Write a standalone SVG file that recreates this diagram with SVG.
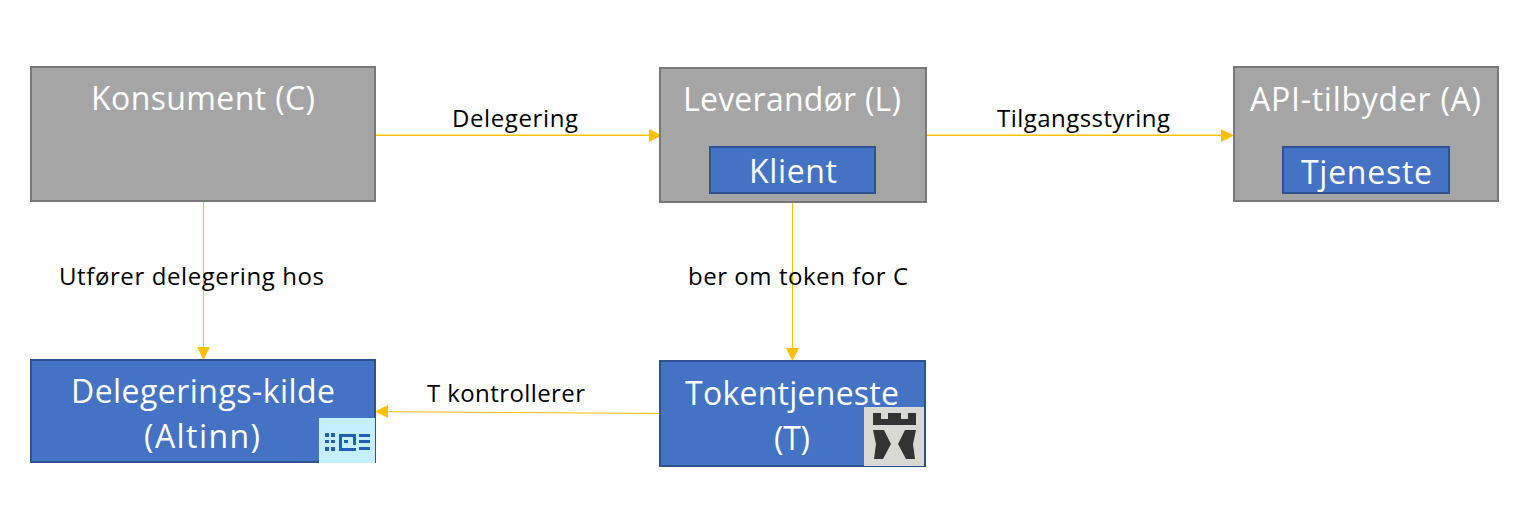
<svg xmlns="http://www.w3.org/2000/svg" width="1531" height="512" viewBox="0 0 1531 512">
<style>
text{font-family:"Open Sans","Noto Sans","Liberation Sans",sans-serif;text-anchor:middle}
.g{fill:#a5a5a5;stroke:#787878;stroke-width:2}
.b{fill:#4472c4;stroke:#2f528f;stroke-width:2}
.t{fill:#fff;font-size:32px}
.s{fill:#fff;font-size:32px}
.l{fill:#000;font-size:24px}
.c{fill:none;stroke:#ffc000;stroke-width:1}
.w{stroke-width:1.4}
.h{fill:#ffc000}
.d{fill:#1f5fb8}
.k{fill:#333}
</style>
<rect width="1531" height="512" fill="#fff"/>
<g id="connectors">
<path class="c w" d="M375 135.200H650"/><path class="h" d="M662 135.500L649 129V142Z"/>
<path class="c w" d="M926 135.200H1222"/><path class="h" d="M1234 135.500L1221 129V142Z"/>
<path class="c" d="M203.500 202V348"/><path class="h" d="M203.500 360L197 347H210Z"/>
<path class="c" d="M792.500 193V349"/><path class="h" d="M792.500 361L786 348H799Z"/>
<path class="c" d="M660 413.500L387 411.700"/><path class="h" d="M375 411.500L388 405V418Z"/>
</g>
<g id="konsument"><rect class="g" x="31" y="67" width="344" height="134"/><text class="t" x="203" y="110" textLength="224">Konsument (C)</text></g>
<g id="leverandor"><rect class="g" x="660" y="68" width="266" height="134"/><text class="t" x="792" y="111" textLength="218">Leverandør (L)</text></g>
<g id="klient"><rect class="b" x="710" y="147" width="165" height="46"/><text class="s" x="793" y="183" textLength="88">Klient</text></g>
<g id="api-tilbyder"><rect class="g" x="1234" y="67" width="264" height="134"/><text class="t" x="1365.500" y="111" textLength="231">API-tilbyder (A)</text></g>
<g id="tjeneste"><rect class="b" x="1283" y="147" width="166" height="46"/><text class="s" x="1366.500" y="184" textLength="131">Tjeneste</text></g>
<g id="delegeringskilde"><rect class="b" x="31" y="360" width="344" height="102"/><text class="t" x="203" y="403" textLength="264">Delegerings-kilde</text><text class="t" x="202" y="448" textLength="116">(Altinn)</text>
<rect x="319" y="418" width="56" height="45" fill="#c5effe"/>
<path class="d" d="M325 433h4v4h-4zM331 433h4v4h-4zM325 440h4v3h-4zM331 440h4v3h-4zM325 447h4v4h-4zM331 447h4v4h-4z"/>
<path class="d" d="M339 434h17v3h-17zM339 434h3v17h-3zM339 448h17v3h-17zM353 434h3v11h-3zM344 440h4v3h-4z"/>
<path class="d" d="M359 434h11v3h-11zM359 440h11v3h-11zM359 447h11v3h-11z"/></g>
<g id="tokentjeneste"><rect class="b" x="660" y="361" width="265" height="105"/><text class="t" x="792" y="405" textLength="214">Tokentjeneste</text><text class="t" x="792" y="450" textLength="36">(T)</text>
<rect x="864" y="407" width="60" height="59" fill="#d9d9d3"/>
<path class="k" d="M873 413h8v6h7v-6h13v6h7v-6h8v12h-43z"/>
<path class="k" d="M873 430h11l7 14 -8 15h-9l2-15z"/>
<path class="k" d="M916 430h-11l-7 14 8 15h9l-2-15z"/></g>
<g id="labels">
<text class="l" x="515" y="127" textLength="126">Delegering</text>
<text class="l" x="1083.500" y="127" textLength="173">Tilgangsstyring</text>
<text class="l" x="191.500" y="285" textLength="265">Utfører delegering hos</text>
<text class="l" x="798" y="285" textLength="220">ber om token for C</text>
<text class="l" x="506" y="402" textLength="158">T kontrollerer</text>
</g>
</svg>
